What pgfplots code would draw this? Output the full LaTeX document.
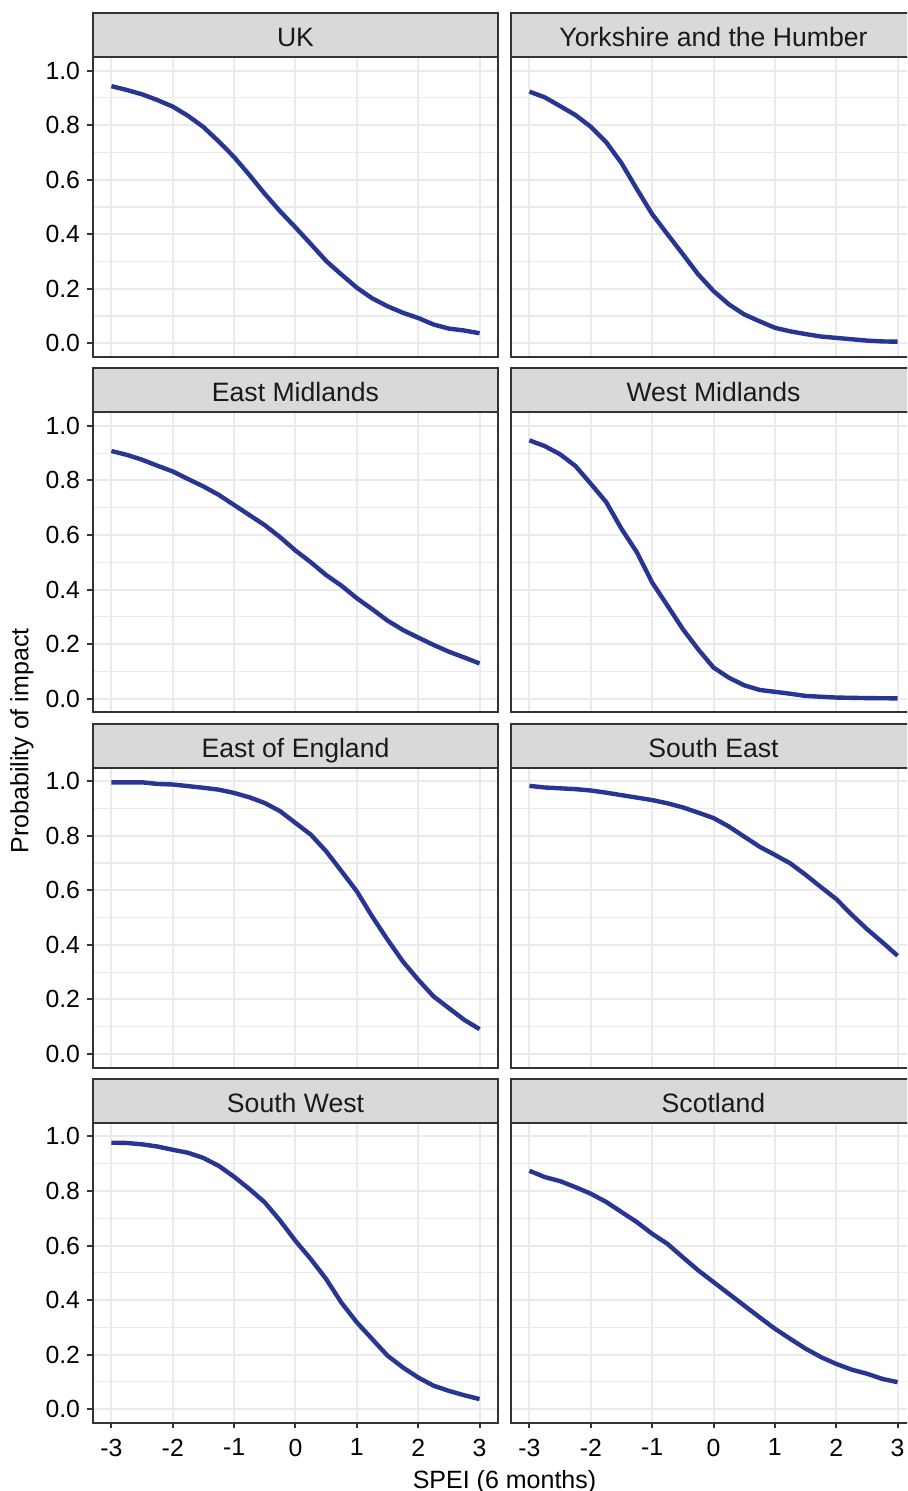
\documentclass[border=0pt]{standalone}
\usepackage{fontspec}
\setmainfont{Liberation Sans}
\usepackage{pgfplots}
\pgfplotsset{compat=1.18}
\definecolor{linecol}{HTML}{283593}
\definecolor{gridcol}{HTML}{EBEBEB}
\definecolor{bordercol}{HTML}{333333}
\definecolor{stripcol}{HTML}{D9D9D9}
\definecolor{striptext}{HTML}{1A1A1A}
\newcommand\tickfont{\fontsize{12.4}{14}\selectfont}
\pgfplotsset{
  facet/.style={
    scale only axis, width=202.5pt, height=150pt, anchor=south west,
    xmin=-3.3, xmax=3.3, ymin=-0.05, ymax=1.05,
    xtick={-3,-2,-1,0,1,2,3}, ytick={0,0.2,0.4,0.6,0.8,1},
    minor ytick={0.1,0.3,0.5,0.7,0.9},
    xmajorgrids, ymajorgrids, yminorgrids,
    major grid style={draw=gridcol, line width=1pt},
    minor grid style={draw=gridcol, line width=0.6pt},
    axis line style={draw=bordercol, line width=1pt},
    tick align=outside, tick pos=left,
    major tick length=2.8pt, minor tick length=0pt,
    xticklabels={}, yticklabels={},
    every axis title shift=0pt,
    title style={at={(0.5,1)}, anchor=south, yshift=0pt, fill=stripcol, draw=bordercol,
      line width=1pt, minimum width=202.5pt, minimum height=22pt, inner sep=0pt, outer sep=0pt,
      text height=12pt, text depth=0.3pt, font=\fontsize{13.3}{15}\selectfont, text=striptext},
  },
  curve/.style={draw=linecol, line width=2.2pt, mark=none, line join=round},
  showy/.style={yticklabels={0.0,0.2,0.4,0.6,0.8,1.0},
    yticklabel style={font=\tickfont, inner sep=0pt, anchor=east, text=black, xshift=-3.5pt},
    ytick style={draw=bordercol, line width=1pt}},
  noy/.style={ytick style={draw=none}},
  showx/.style={xticklabels={-3,-2,-1,0,1,2,3},
    xticklabel style={font=\tickfont, inner sep=0pt, anchor=north, text=black, yshift=-5pt},
    xtick style={draw=bordercol, line width=1pt}},
  nox/.style={xtick style={draw=none}},
}
\begin{document}
\begin{tikzpicture}
\useasboundingbox (0,0) rectangle (453.5pt,745.5pt);
\clip (0,0) rectangle (453.5pt,745.5pt);
% Row 1
\begin{axis}[facet, showy, nox, at={(46.5pt,567pt)}, title={UK}]
\addplot[curve] coordinates {(-3,0.943) (-2.75,0.929) (-2.5,0.913) (-2.25,0.892) (-2,0.868) (-1.75,0.834) (-1.5,0.793) (-1.25,0.740) (-1,0.683) (-0.75,0.617) (-0.5,0.548) (-0.25,0.484) (0,0.425) (0.25,0.364) (0.5,0.302) (0.75,0.252) (1,0.204) (1.25,0.165) (1.5,0.136) (1.75,0.112) (2,0.093) (2.25,0.069) (2.5,0.054) (2.75,0.047) (3,0.037)};
\end{axis}
\begin{axis}[facet, noy, nox, at={(255.5pt,567pt)}, title={Yorkshire and the Humber}]
\addplot[curve] coordinates {(-3,0.923) (-2.75,0.902) (-2.5,0.870) (-2.25,0.837) (-2,0.794) (-1.75,0.738) (-1.5,0.661) (-1.25,0.566) (-1,0.474) (-0.75,0.400) (-0.5,0.327) (-0.25,0.253) (0,0.192) (0.25,0.143) (0.5,0.106) (0.75,0.081) (1,0.057) (1.25,0.044) (1.5,0.034) (1.75,0.025) (2,0.020) (2.25,0.015) (2.5,0.010) (2.75,0.007) (3,0.006)};
\end{axis}
% Row 2
\begin{axis}[facet, showy, nox, at={(46.5pt,389.35pt)}, title={East Midlands}]
\addplot[curve] coordinates {(-3,0.908) (-2.75,0.894) (-2.5,0.876) (-2.25,0.854) (-2,0.833) (-1.75,0.805) (-1.5,0.778) (-1.25,0.747) (-1,0.710) (-0.75,0.673) (-0.5,0.636) (-0.25,0.592) (0,0.543) (0.25,0.500) (0.5,0.453) (0.75,0.414) (1,0.368) (1.25,0.328) (1.5,0.286) (1.75,0.252) (2,0.224) (2.25,0.197) (2.5,0.172) (2.75,0.151) (3,0.129)};
\end{axis}
\begin{axis}[facet, noy, nox, at={(255.5pt,389.35pt)}, title={West Midlands}]
\addplot[curve] coordinates {(-3,0.947) (-2.75,0.926) (-2.5,0.896) (-2.25,0.853) (-2,0.788) (-1.75,0.721) (-1.5,0.623) (-1.25,0.537) (-1,0.426) (-0.75,0.341) (-0.5,0.255) (-0.25,0.181) (0,0.114) (0.25,0.077) (0.5,0.049) (0.75,0.032) (1,0.025) (1.25,0.018) (1.5,0.010) (1.75,0.007) (2,0.004) (2.5,0.002) (3,0.001)};
\end{axis}
% Row 3
\begin{axis}[facet, showy, nox, at={(46.5pt,211.7pt)}, title={East of England}]
\addplot[curve] coordinates {(-3,0.996) (-2.5,0.996) (-2.25,0.990) (-2,0.988) (-1.75,0.982) (-1.5,0.976) (-1.25,0.969) (-1,0.957) (-0.75,0.941) (-0.5,0.920) (-0.25,0.890) (0,0.847) (0.25,0.804) (0.5,0.743) (0.75,0.670) (1,0.596) (1.25,0.504) (1.5,0.419) (1.75,0.339) (2,0.272) (2.25,0.211) (2.5,0.168) (2.75,0.125) (3,0.091)};
\end{axis}
\begin{axis}[facet, noy, nox, at={(255.5pt,211.7pt)}, title={South East}]
\addplot[curve] coordinates {(-3,0.983) (-2.75,0.977) (-2.5,0.974) (-2.25,0.971) (-2,0.966) (-1.75,0.958) (-1.5,0.949) (-1.25,0.940) (-1,0.931) (-0.75,0.919) (-0.5,0.904) (-0.25,0.885) (0,0.865) (0.25,0.834) (0.5,0.797) (0.75,0.760) (1,0.730) (1.25,0.699) (1.5,0.657) (1.75,0.612) (2,0.568) (2.25,0.511) (2.5,0.458) (2.75,0.410) (3,0.360)};
\end{axis}
% Row 4
\begin{axis}[facet, showy, showx, at={(46.5pt,34.1pt)}, title={South West}]
\addplot[curve] coordinates {(-3,0.977) (-2.75,0.976) (-2.5,0.971) (-2.25,0.963) (-2,0.951) (-1.75,0.940) (-1.5,0.921) (-1.25,0.892) (-1,0.852) (-0.75,0.807) (-0.5,0.758) (-0.25,0.691) (0,0.617) (0.25,0.550) (0.5,0.477) (0.75,0.390) (1,0.318) (1.25,0.257) (1.5,0.196) (1.75,0.153) (2,0.116) (2.25,0.086) (2.5,0.067) (2.75,0.051) (3,0.037)};
\end{axis}
\begin{axis}[facet, noy, showx, at={(255.5pt,34.1pt)}, title={Scotland}]
\addplot[curve] coordinates {(-3,0.874) (-2.75,0.851) (-2.5,0.836) (-2.25,0.814) (-2,0.790) (-1.75,0.760) (-1.5,0.723) (-1.25,0.686) (-1,0.643) (-0.75,0.606) (-0.5,0.557) (-0.25,0.509) (0,0.466) (0.25,0.423) (0.5,0.380) (0.75,0.337) (1,0.295) (1.25,0.258) (1.5,0.222) (1.75,0.191) (2,0.166) (2.25,0.145) (2.5,0.130) (2.75,0.111) (3,0.099)};
\end{axis}
\node[rotate=90, font=\fontsize{12.5}{15}\selectfont] at (11pt,375pt) {Probability of impact};
\node[anchor=base, font=\fontsize{12.5}{15}\selectfont] at (252.25pt,1.5pt) {SPEI (6 months)};
\end{tikzpicture}
\end{document}
